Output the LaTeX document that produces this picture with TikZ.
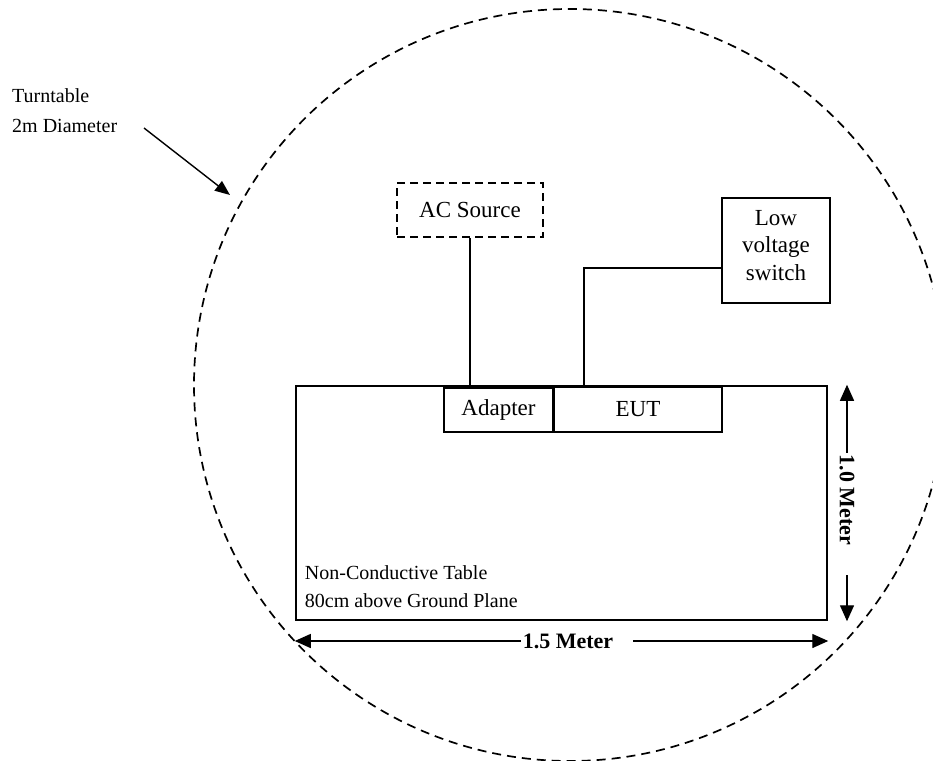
\documentclass[tikz,border=0pt]{standalone}
\usepackage{fontspec}
\setmainfont{Liberation Serif}
\usetikzlibrary{arrows.meta, positioning}

\begin{document}
\begin{tikzpicture}
[x=1pt, y=-1pt,
 ->/.style={line width=1.4pt, arrows={-Triangle[length=16pt, width=14pt]}},
 wire/.style={line width=1.4pt},
 box/.style={shape=rectangle, draw, line width=1.3pt, inner sep=0pt,
   font=\fontsize{23}{27.5}\selectfont, align=center},
 dbox/.style={box, dash pattern=on 8pt off 5pt, line width=1.6pt},
 note/.style={inner sep=0pt, align=left, font=\fontsize{20}{30}\selectfont},
 dim/.style={inner sep=2pt, font=\fontsize{22}{26}\selectfont\bfseries}]
\useasboundingbox (0,0) rectangle (933,760);
\coordinate (tt) at (570,385);
\draw [line width=1.7pt, dash pattern=on 9pt off 6pt] (tt) circle [radius=376];
\node[box, line width=2.5pt, minimum width=531pt, minimum height=234pt] (table) at (561.5,503) {};
\node[box, minimum width=109pt, minimum height=44pt] (adp) at (498.5,410) {Adapter};
\node[box, minimum width=168pt, minimum height=45pt] (eut) at (638,409.5) {EUT};
\node[dbox, minimum width=146pt, minimum height=54pt] (ac) at (470,210) {AC Source};
\node[box, minimum width=108pt, minimum height=105pt, text depth=11pt] (lvs) at (776,250.5) {Low\\voltage\\switch};
\draw [wire] (ac.south) -- (ac.south |- table.north);
\coordinate (eutn) at ([xshift=-54pt]eut.north);
\coordinate (lvsw) at ([yshift=-17.5pt]lvs.west);
\draw [wire] (eutn |- table.north) |- (lvsw);
\node[note, anchor=north west] (ttl) at (12,88) {Turntable\\2m Diameter};
\coordinate (tts) at (144,128);
\coordinate (tte) at (230,195);
\draw [->, arrows={-Triangle[length=15pt, width=12pt]}] (tts) -- (tte);
\node[note, anchor=south west, font=\fontsize{20}{28}\selectfont] (tnote)
  at ([xshift=10pt, yshift=13pt]table.south west) {Non-Conductive Table\\80cm above Ground Plane};
\node[dim] (len) at (568,641) {1.5 Meter};
\draw [->] (len.west) -- (len.west -| table.west);
\draw [->] ([xshift=18pt]len.east) -- (len.east -| table.east);
\node[dim, rotate=-90] (wid) at (847,500) {1.0 Meter};
\draw [->] (wid.west) -- (wid.west |- table.north);
\draw [->] ([yshift=-28pt]wid.east) -- (wid.east |- table.south);
\end{tikzpicture}
\end{document}
